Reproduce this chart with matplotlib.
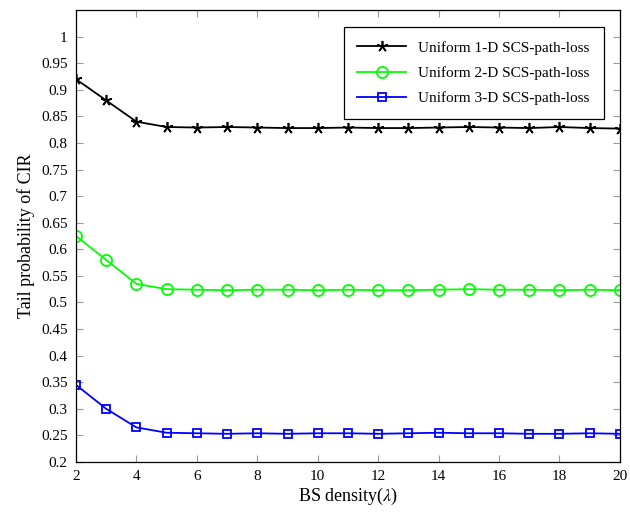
import numpy as np
import matplotlib
matplotlib.use("Agg")
import matplotlib.pyplot as plt

plt.rcParams['font.family'] = ['Liberation Serif', 'DejaVu Serif']
plt.rcParams['mathtext.fontset'] = 'stix'

# BS density values
density = list(range(2, 21))

# Tail probability of CIR for each model
tail_1d = [0.920, 0.880, 0.840, 0.830, 0.829, 0.830, 0.829, 0.828, 0.828, 0.829,
           0.828, 0.828, 0.829, 0.830, 0.829, 0.828, 0.830, 0.828, 0.827]
tail_2d = [0.625, 0.580, 0.535, 0.525, 0.524, 0.523, 0.524, 0.524, 0.523, 0.524,
           0.523, 0.523, 0.524, 0.525, 0.524, 0.524, 0.523, 0.524, 0.523]
tail_3d = [0.345, 0.300, 0.265, 0.255, 0.254, 0.253, 0.254, 0.253, 0.254, 0.254,
           0.253, 0.254, 0.255, 0.254, 0.254, 0.253, 0.253, 0.254, 0.253]

fig = plt.figure(figsize=(6.3, 5.14), dpi=100)
ax = fig.add_axes([0.1206, 0.1012, 0.8634, 0.8793])

# pgfplots-style star: five spokes
ax.plot(density, tail_1d, color='black', marker=(5, 2, 0), markersize=8,
        markeredgewidth=1.2, lw=1.3, label='Uniform 1-D SCS-path-loss')
ax.plot(density, tail_2d, color='#00ff00', marker='o', markersize=8,
        markerfacecolor='none', markeredgewidth=1.3, lw=1.3,
        label='Uniform 2-D SCS-path-loss')
ax.plot(density, tail_3d, color='blue', marker='s', markersize=6,
        markerfacecolor='none', markeredgewidth=1.3, lw=1.3,
        label='Uniform 3-D SCS-path-loss')

ax.set_xlim(2, 20)
ax.set_ylim(0.2, 1.05)
ax.set_xticks(range(2, 21, 2))
yt = np.arange(0.2, 1.001, 0.05)
ax.set_yticks(yt)
ax.set_yticklabels(['%g' % round(v, 2) for v in yt])

ax.tick_params(direction='in', length=5, width=0.8, color='#999999',
               top=True, right=True, labelsize=11, pad=6)
for s in ax.spines.values():
    s.set_linewidth(0.9)

ax.set_xlabel(r'BS density($\lambda$)', fontsize=13, labelpad=2)
ax.set_ylabel('Tail probability of CIR', fontsize=13)

leg = ax.legend(loc='upper right', fontsize=11, fancybox=False,
                edgecolor='black', framealpha=1, borderpad=0.9,
                labelspacing=0.75, handlelength=3.2,
                bbox_to_anchor=(0.984, 0.979))
leg.get_frame().set_linewidth(0.9)

fig.savefig('out.png', dpi=100)
